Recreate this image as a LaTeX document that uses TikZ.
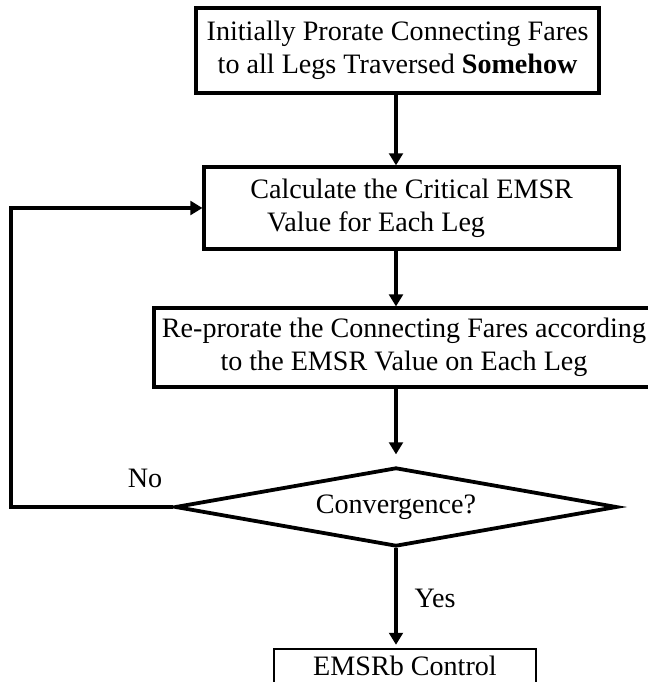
\documentclass[tikz,border=0pt]{standalone}
\usepackage{fontspec}
\setmainfont{Liberation Serif}
\usetikzlibrary{arrows.meta,positioning,calc,shapes.geometric}
\tikzset{
  flow/.style={-{Triangle[length=0.3cm, width=0.34cm]}, line width=2.3pt, draw=black},
  block/.style={draw=black, line width=2.3pt, rectangle, inner sep=0pt, align=center},
  decision/.style={draw=black, line width=2.7pt, diamond, aspect=5.6, inner sep=0pt,
    minimum width=11.05cm, minimum height=1.975cm},
  note/.style={inner sep=0pt}
}
\begin{document}
\begin{tikzpicture}[font=\fontsize{20pt}{23.5pt}\selectfont]
  \useasboundingbox (0,0) rectangle (16.2,17.05);
  % boxes
  \node[block, minimum width=10.075cm, minimum height=2.125cm] (init) at (9.94,15.79)
    {Initially Prorate Connecting Fares\\to all Legs Traversed \textbf{Somehow}};
  \node[block, minimum width=10.375cm, minimum height=2.05cm, align=left] (calc) at (10.29,11.85)
    {Calculate the Critical EMSR\\\hspace*{0.6em}Value for Each Leg};
  \node[block, minimum width=12.5cm, minimum height=1.975cm] (repro) at (10.1,8.36)
    {Re-prorate the Connecting Fares according\\to the EMSR Value on Each Leg};
  \node[decision] (conv) at (9.9,4.375) {Convergence?};
  \node[block, line width=1.5pt, minimum width=6.55cm, anchor=north, inner ysep=0.175cm,
    text depth=1cm] (ctrl) at (10.125,0.85) {EMSRb Control};
  % labels
  \node[note] (no) at (3.625,5.1) {No};
  \node[note] (yes) at (10.875,2.1) {Yes};
  % arrows
  \draw[flow] (init.south -| conv.north) -- (calc.north -| conv.north);
  \draw[flow] (calc.south -| conv.north) -- (repro.north -| conv.north);
  \draw[flow, shorten >=0.28cm] (repro.south -| conv.north) -- (conv.north);
  \draw[flow, shorten >=0.08cm] (conv.south) -- (ctrl.north -| conv.south);
  \draw[flow] (conv.west) -- ++(-4.05,0) |- (calc.west);
\end{tikzpicture}
\end{document}
